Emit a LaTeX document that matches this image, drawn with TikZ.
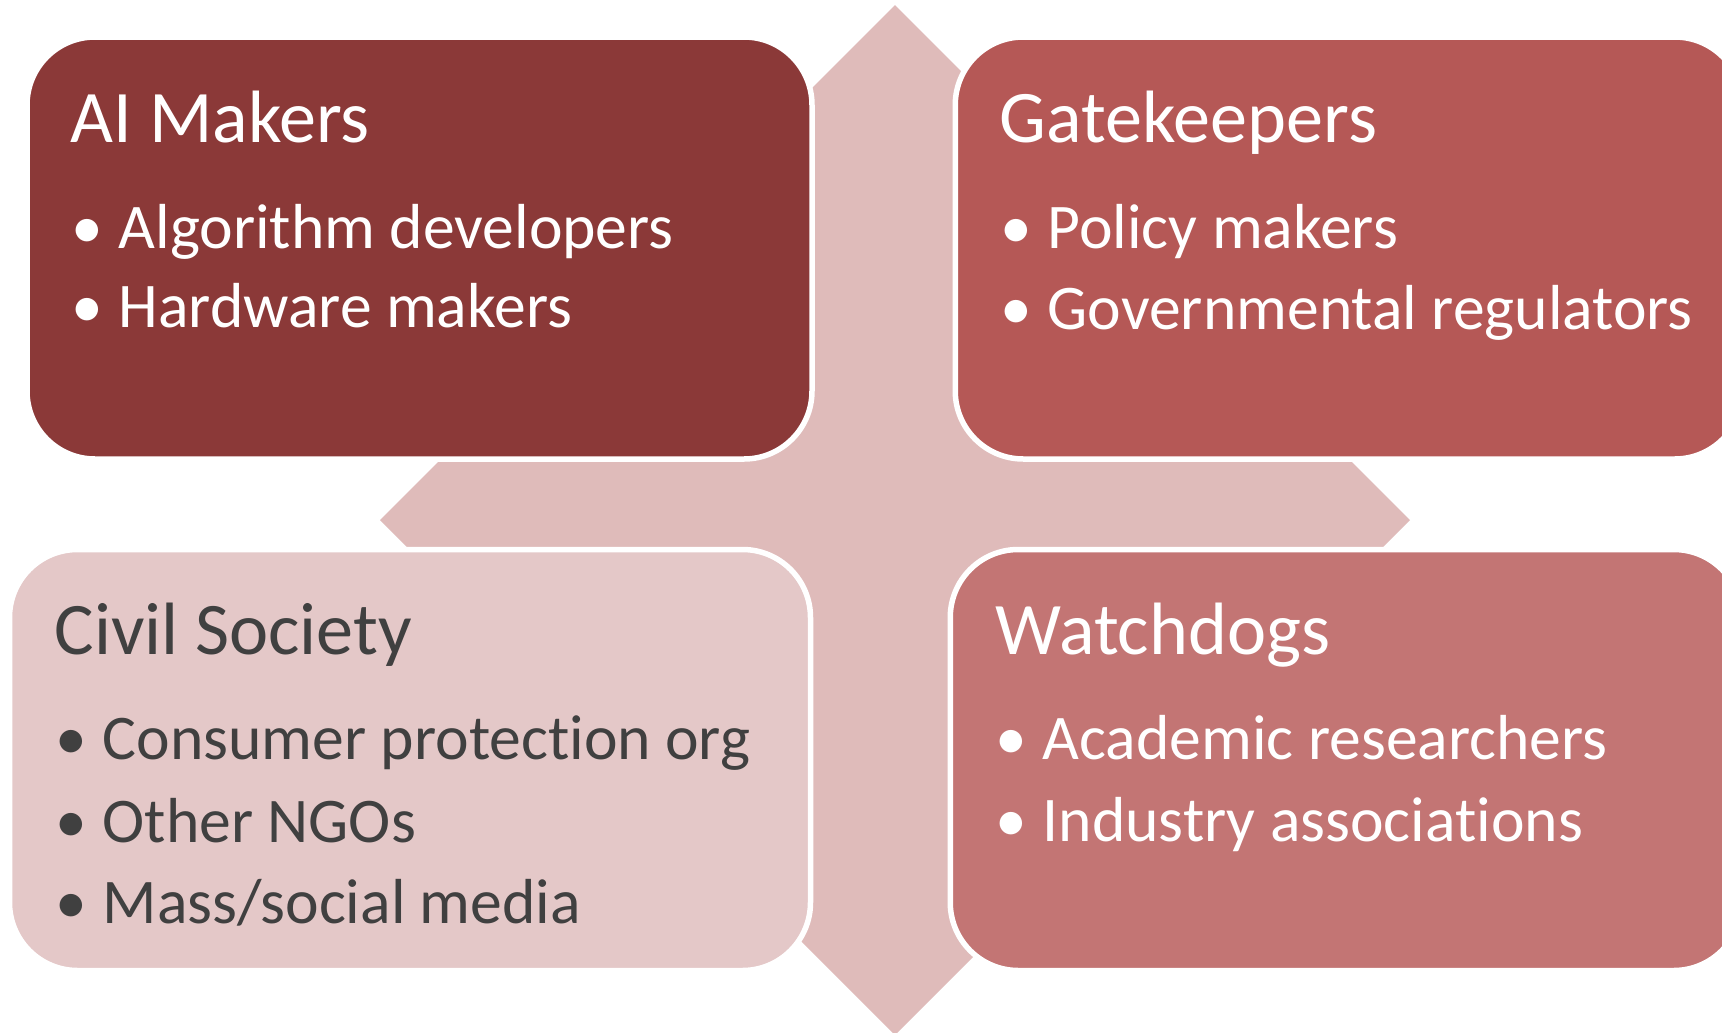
\documentclass[tikz,border=0pt]{standalone}
\usepackage{fontspec}
\setmainfont{Carlito}[RawFeature=-liga]
\usepackage{tikz}
\usetikzlibrary{positioning}
\definecolor{aimaker}{RGB}{139,57,56}
\definecolor{gatekeep}{RGB}{181,88,86}
\definecolor{watchdog}{RGB}{195,117,116}
\definecolor{civilsoc}{RGB}{228,200,200}
\definecolor{crosspink}{RGB}{223,187,186}
\definecolor{darktext}{RGB}{64,64,64}
\tikzset{
    quadbox/.style = {rectangle, rounded corners=0.68cm, draw=white, line width=0.055cm, inner sep=0pt},
    boxai/.style = {quadbox, fill=aimaker, minimum width=7.85cm, minimum height=4.22cm},
    boxgate/.style = {quadbox, fill=gatekeep, minimum width=7.875cm, minimum height=4.22cm},
    boxcivil/.style = {quadbox, fill=civilsoc, minimum width=8.01cm, minimum height=4.21cm},
    boxwatch/.style = {quadbox, fill=watchdog, minimum width=7.915cm, minimum height=4.21cm},
    titletext/.style = {anchor=base west, inner sep=0pt, font=\fontsize{21.1}{25}\selectfont},
    itemtext/.style = {anchor=base west, inner sep=0pt, font=\fontsize{18.1}{21}\selectfont},
}
\newcommand{\bulletitem}[1]{\makebox[0.47cm][l]{\textbullet}#1}

\begin{document}
\begin{tikzpicture}
\useasboundingbox (0,0) rectangle (17.22,10.32);
\clip (0,0) rectangle (17.22,10.32);
%
% quad arrow behind the boxes
\begin{scope}[shift={(8.95,5.12)}]
\fill[crosspink] (0,5.15) -- (1.5,3.65) -- (1,3.65) -- (1,1) -- (3.65,1) -- (3.65,1.5)
  -- (5.15,0) -- (3.65,-1.5) -- (3.65,-1) -- (1,-1) -- (1,-3.65) -- (1.5,-3.65)
  -- (0,-5.15) -- (-1.5,-3.65) -- (-1,-3.65) -- (-1,-1) -- (-3.65,-1) -- (-3.65,-1.5)
  -- (-5.15,0) -- (-3.65,1.5) -- (-3.65,1) -- (-1,1) -- (-1,3.65) -- (-1.5,3.65) -- cycle;
\end{scope}
%
\node[boxai] at (4.195, 7.84) (ai) {};
\node[boxgate] at (13.49, 7.84) (gate) {};
\node[boxcivil] at (4.10, 2.72) (civil) {};
\node[boxwatch] at (13.46, 2.72) (watch) {};
%
\node[titletext, white] at (0.70, 8.90) (ai-t) {AI Makers};
\node[itemtext, white] at (0.71, 7.84) (ai-1) {\bulletitem{Algorithm developers}};
\node[itemtext, white] at (0.71, 7.05) (ai-2) {\bulletitem{Hardware makers}};
%
\node[titletext, white] at (9.99, 8.90) (gate-t) {Gatekeepers};
\node[itemtext, white] at (10.00, 7.84) (gate-1) {\bulletitem{Policy makers}};
\node[itemtext, white] at (10.00, 7.03) (gate-2) {\bulletitem{Governmental regulators}};
%
\node[titletext, darktext] at (0.54, 3.78) (civil-t) {Civil Society};
\node[itemtext, darktext] at (0.55, 2.73) (civil-1) {\bulletitem{Consumer protection org}};
\node[itemtext, darktext] at (0.55, 1.90) (civil-2) {\bulletitem{Other NGOs}};
\node[itemtext, darktext] at (0.55, 1.09) (civil-3) {\bulletitem{Mass/social media}};
%
\node[titletext, white] at (9.95, 3.78) (watch-t) {Watchdogs};
\node[itemtext, white] at (9.95, 2.73) (watch-1) {\bulletitem{Academic researchers}};
\node[itemtext, white] at (9.95, 1.91) (watch-2) {\bulletitem{Industry associations}};

\end{tikzpicture}
\end{document}
